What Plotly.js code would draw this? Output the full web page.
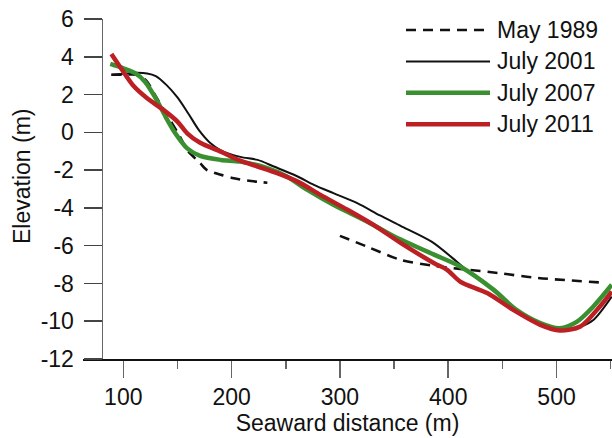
<!DOCTYPE html>
<html>
<head>
<meta charset="utf-8">
<script src="https://cdn.plot.ly/plotly-3.0.1.min.js"></script>
<style>html,body{margin:0;padding:0;background:#fff;}#chart{width:612px;height:438px;}</style>
</head>
<body>
<div id="chart"></div>
<script>
// Series names
const seriesNames = ["May 1989", "July 2001", "July 2007", "July 2011"];

// May 1989 (dashed, with a survey gap)
const x1989 = [89, 100, 112, 121, 130, 140, 150, 160, 171, 177, 190, 202, 218, 233, null, 300, 325, 356, 387, 411, 448, 479, 541];
const y1989 = [3.05, 3.05, 3.05, 2.75, 1.9, 0.95, 0.0, -1.0, -1.63, -1.99, -2.25, -2.43, -2.58, -2.67, null, -5.48, -6.05, -6.75, -7.07, -7.23, -7.46, -7.69, -7.95];

// July 2001
const x2001 = [89, 100, 112, 122, 130, 140, 150, 160, 170, 180, 190, 208, 224, 239, 260, 276, 294, 316, 337, 356, 385, 408, 417, 442, 463, 485, 500, 522, 534, 551];
const y2001 = [3.05, 3.1, 3.15, 3.12, 2.98, 2.5, 1.85, 1.0, 0.1, -0.55, -0.95, -1.3, -1.46, -1.81, -2.31, -2.78, -3.22, -3.75, -4.4, -4.95, -5.8, -6.85, -7.28, -8.34, -9.4, -10.19, -10.45, -10.28, -9.93, -8.69];

// July 2007
const x2007 = [88, 100, 111, 120, 130, 139, 148, 159, 171, 190, 208, 233, 251, 270, 294, 325, 353, 386, 411, 442, 463, 485, 503, 519, 534, 551];
const y2007 = [3.62, 3.39, 3.13, 2.68, 1.8, 0.83, -0.05, -0.85, -1.25, -1.46, -1.55, -1.9, -2.34, -3.05, -3.84, -4.72, -5.6, -6.45, -7.1, -8.34, -9.4, -10.1, -10.37, -10.02, -9.22, -8.07];

// July 2011
const x2011 = [89, 99, 110, 122, 137, 150, 159, 171, 190, 208, 224, 242, 261, 282, 307, 331, 356, 387, 399, 411, 436, 460, 485, 503, 522, 540, 551];
const y2011 = [4.15, 3.3, 2.42, 1.8, 1.19, 0.57, -0.05, -0.55, -1.02, -1.5, -1.81, -2.16, -2.61, -3.31, -4.1, -4.9, -5.85, -6.93, -7.28, -7.9, -8.51, -9.4, -10.19, -10.49, -10.28, -9.22, -8.43];

// Axis tick settings
const xTickVals = [100, 200, 300, 400, 500];
const yTickVals = [-12, -10, -8, -6, -4, -2, 0, 2, 4, 6];

const styles = [
  {color: "#111111", width: 2.6, dash: "10px,7px"},
  {color: "#111111", width: 2.0, dash: "solid"},
  {color: "#3a9030", width: 4.5, dash: "solid"},
  {color: "#bc2024", width: 4.5, dash: "solid"}
];

const xs = [x1989, x2001, x2007, x2011];
const ys = [y1989, y2001, y2007, y2011];

const FONT = "Liberation Sans, Arial, Helvetica, sans-serif";
const FS = 23;

const traces = seriesNames.map((name, i) => ({
  type: "scatter",
  mode: "lines",
  name: name,
  x: xs[i],
  y: ys[i],
  connectgaps: false,
  line: {color: styles[i].color, width: styles[i].width, dash: styles[i].dash, shape: "spline", smoothing: 0.8},
  showlegend: false,
  hoverinfo: "skip"
}));

// Custom legend (long line samples as in the reference)
const shapes = [];
const annotations = [];
const legX0 = (406 - 83) / 529, legX1 = (490 - 83) / 529, legTx = (495 - 83) / 529;
seriesNames.forEach((name, i) => {
  const py = 30 + i * 31.4;
  const yp = (359 - py) / 340;
  shapes.push({
    type: "line", xref: "paper", yref: "paper",
    x0: legX0, x1: legX1, y0: yp, y1: yp,
    line: {color: styles[i].color, width: styles[i].width, dash: styles[i].dash}
  });
  annotations.push({
    xref: "paper", yref: "paper", x: legTx, y: yp,
    xanchor: "left", yanchor: "middle", showarrow: false,
    text: name, font: {family: FONT, size: FS, color: "#111"}
  });
});

// Y axis title as annotation
annotations.push({
  xref: "paper", yref: "paper",
  x: (22 - 83) / 529, y: (359 - 177) / 340,
  xanchor: "center", yanchor: "middle", showarrow: false,
  textangle: -90, text: "Elevation (m)",
  font: {family: FONT, size: FS, color: "#111"}
});

const layout = {
  width: 612, height: 438,
  margin: {l: 83, r: 0, t: 19, b: 79, pad: 0},
  paper_bgcolor: "#ffffff", plot_bgcolor: "#ffffff",
  font: {family: FONT, size: FS, color: "#111"},
  showlegend: false,
  xaxis: {
    range: [62.8, 551.2],
    tickvals: xTickVals, ticktext: xTickVals.map(String),
    ticks: "outside", ticklen: 17, tickwidth: 1.5, tickcolor: "#666",
    showline: true, linecolor: "#111", linewidth: 1.5,
    showgrid: false, zeroline: false,
    tickfont: {family: FONT, size: FS, color: "#111"},
    minor: {dtick: 50, tick0: 50, ticks: "outside", ticklen: 8, tickwidth: 1.5, tickcolor: "#666", showgrid: false},
    title: {text: "Seaward distance (m)", font: {family: FONT, size: FS, color: "#111"}, standoff: 0},
    automargin: false
  },
  yaxis: {
    range: [-12, 6],
    anchor: "free", position: (101.5 - 83) / 529,
    tickvals: yTickVals, ticktext: yTickVals.map(String),
    ticks: "outside", ticklen: 18, tickwidth: 1.5, tickcolor: "#444",
    ticklabelstandoff: 5,
    showline: true, linecolor: "#666", linewidth: 1.5,
    showgrid: false, zeroline: false,
    tickfont: {family: FONT, size: FS, color: "#111"},
    automargin: false
  },
  shapes: shapes,
  annotations: annotations
};

Plotly.newPlot("chart", traces, layout, {staticPlot: true, displayModeBar: false});
</script>
</body>
</html>
